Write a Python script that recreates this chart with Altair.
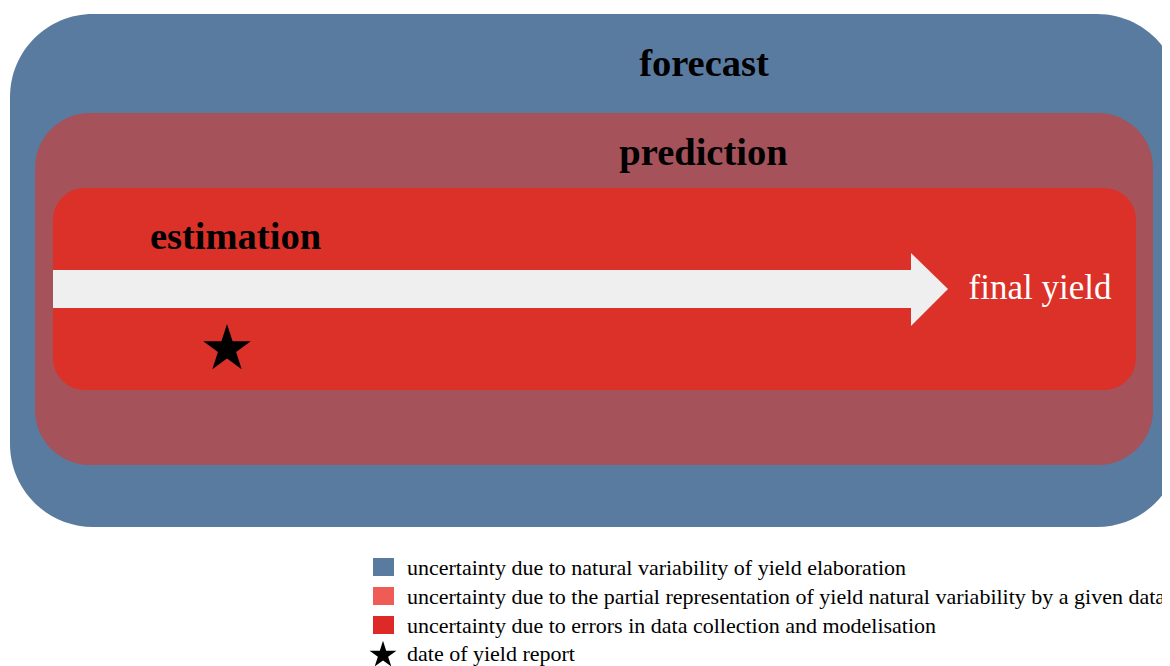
import altair as alt
import pandas as pd

# Nested zones (screen-like coordinates)
zone_names = ["forecast", "prediction", "estimation"]
zone_x = [10, 35, 53]
zone_x2 = [1180, 1153, 1136]
zone_y = [14, 113, 188]
zone_y2 = [527, 465, 390]
zone_colors = ["#5A7BA0", "#A5525A", "#DC3129"]
zone_radius = [83, 55, 32]

# Zone labels
label_text = ["forecast", "prediction", "estimation"]
label_x = [704, 703.5, 235.5]
label_y = [76, 165, 249]

# Arrow
shaft_x, shaft_x2, shaft_y, shaft_y2 = [53], [911], [270], [308]
head_x = [911, 948]
head_top = [253, 289]
head_bot = [326, 289]
arrow_color = "#EFEFEF"

# Final yield label
final_text = ["final yield"]
final_x = [1040]
final_y = [299]

# Star (date of yield report)
star_x = [227]
star_y = [349]

# Legend
legend_labels = [
    "uncertainty due to natural variability of yield elaboration",
    "uncertainty due to the partial representation of yield natural variability by a given data set",
    "uncertainty due to errors in data collection and modelisation",
    "date of yield report",
]
legend_colors = ["#5A7BA0", "#EF5B55", "#DD2A28"]
legend_rows = [567, 596, 625, 655]
legend_baselines = [575, 604, 633, 661]

STAR = "M0,-1L0.2245,-0.309L0.951,-0.309L0.363,0.118L0.588,0.809L0,0.382L-0.588,0.809L-0.363,0.118L-0.951,-0.309L-0.2245,-0.309Z"
FONT = "Liberation Serif"

xs = alt.Scale(domain=[8, 1162], nice=False, zero=False)
ys = alt.Scale(domain=[8, 666], nice=False, zero=False, reverse=True)

layers = []
for i in range(3):
    d = pd.DataFrame({"x": [zone_x[i]], "x2": [zone_x2[i]], "y": [zone_y[i]], "y2": [zone_y2[i]]})
    layers.append(
        alt.Chart(d).mark_rect(color=zone_colors[i], cornerRadius=zone_radius[i], clip=True).encode(
            x=alt.X("x:Q", scale=xs, axis=None), x2="x2:Q",
            y=alt.Y("y:Q", scale=ys, axis=None), y2="y2:Q",
        )
    )

lab = pd.DataFrame({"t": label_text, "x": label_x, "y": label_y})
layers.append(
    alt.Chart(lab).mark_text(font=FONT, fontSize=38.5, fontWeight="bold", color="black",
                             align="center", baseline="alphabetic").encode(
        x=alt.X("x:Q", scale=xs, axis=None), y=alt.Y("y:Q", scale=ys, axis=None), text="t:N")
)

shaft = pd.DataFrame({"x": shaft_x, "x2": shaft_x2, "y": shaft_y, "y2": shaft_y2})
layers.append(
    alt.Chart(shaft).mark_rect(color=arrow_color).encode(
        x=alt.X("x:Q", scale=xs, axis=None), x2="x2:Q",
        y=alt.Y("y:Q", scale=ys, axis=None), y2="y2:Q")
)
head = pd.DataFrame({"x": head_x, "y": head_top, "y2": head_bot})
layers.append(
    alt.Chart(head).mark_area(color=arrow_color, opacity=1).encode(
        x=alt.X("x:Q", scale=xs, axis=None),
        y=alt.Y("y:Q", scale=ys, axis=None), y2="y2:Q")
)

fin = pd.DataFrame({"t": final_text, "x": final_x, "y": final_y})
layers.append(
    alt.Chart(fin).mark_text(font=FONT, fontSize=35, color="white",
                             align="center", baseline="alphabetic").encode(
        x=alt.X("x:Q", scale=xs, axis=None), y=alt.Y("y:Q", scale=ys, axis=None), text="t:N")
)

star = pd.DataFrame({"x": star_x, "y": star_y})
layers.append(
    alt.Chart(star).mark_point(shape=STAR, size=2500, filled=True, color="black", opacity=1).encode(
        x=alt.X("x:Q", scale=xs, axis=None), y=alt.Y("y:Q", scale=ys, axis=None))
)

# Legend swatches
sw = pd.DataFrame({
    "x": [373] * 3, "x2": [394] * 3,
    "y": [r - 9 for r in legend_rows[:3]], "y2": [r + 9 for r in legend_rows[:3]],
    "c": legend_colors,
})
layers.append(
    alt.Chart(sw).mark_rect().encode(
        x=alt.X("x:Q", scale=xs, axis=None), x2="x2:Q",
        y=alt.Y("y:Q", scale=ys, axis=None), y2="y2:Q",
        color=alt.Color("c:N", scale=None))
)
lstar = pd.DataFrame({"x": [383], "y": [legend_rows[3]]})
layers.append(
    alt.Chart(lstar).mark_point(shape=STAR, size=800, filled=True, color="black", opacity=1).encode(
        x=alt.X("x:Q", scale=xs, axis=None), y=alt.Y("y:Q", scale=ys, axis=None))
)
lt = pd.DataFrame({"t": legend_labels, "x": [407] * 4, "y": legend_baselines})
layers.append(
    alt.Chart(lt).mark_text(font=FONT, fontSize=22, color="black", align="left",
                            baseline="alphabetic").encode(
        x=alt.X("x:Q", scale=xs, axis=None), y=alt.Y("y:Q", scale=ys, axis=None), text="t:N")
)

chart = alt.layer(*layers).properties(
    width=1154, height=658, padding=0,
    autosize=alt.AutoSizeParams(type="none"),
).configure_view(stroke=None)

chart.save("out.html", embed_options={"renderer": "svg", "actions": False})
